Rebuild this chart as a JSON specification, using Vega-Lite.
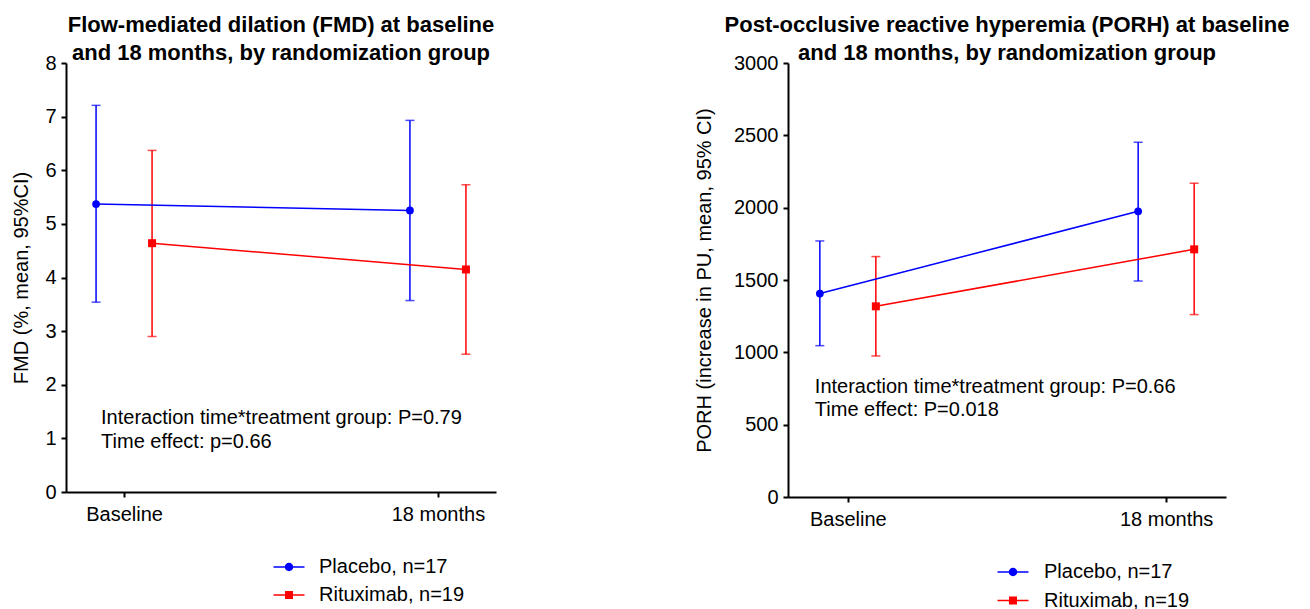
{
  "$schema": "https://vega.github.io/schema/vega-lite/v6.json",
  "background": "white",
  "padding": {"left": 11, "top": 14, "right": 5, "bottom": 5},
  "datasets": {
    "fmd": [
      {"time": "Baseline", "group": "Placebo, n=17", "mean": 5.37, "lo": 3.54, "hi": 7.21},
      {"time": "Baseline", "group": "Rituximab, n=19", "mean": 4.64, "lo": 2.90, "hi": 6.37},
      {"time": "18 months", "group": "Placebo, n=17", "mean": 5.25, "lo": 3.57, "hi": 6.93},
      {"time": "18 months", "group": "Rituximab, n=19", "mean": 4.15, "lo": 2.57, "hi": 5.73}
    ],
    "porh": [
      {"time": "Baseline", "group": "Placebo, n=17", "mean": 1406, "lo": 1046, "hi": 1770},
      {"time": "Baseline", "group": "Rituximab, n=19", "mean": 1318, "lo": 975, "hi": 1662},
      {"time": "18 months", "group": "Placebo, n=17", "mean": 1975, "lo": 1493, "hi": 2452},
      {"time": "18 months", "group": "Rituximab, n=19", "mean": 1712, "lo": 1261, "hi": 2169}
    ]
  },
  "spacing": 198,
  "resolve": {"scale": {"fill": "independent", "shape": "independent", "x": "independent", "y": "independent"}, "legend": {"fill": "independent", "shape": "independent"}},
  "hconcat": [
    {
      "width": 430,
      "height": 429,
      "title": {"text": ["Flow-mediated dilation (FMD) at baseline", "and 18 months, by randomization group"]},
      "data": {"name": "fmd"},
      "encoding": {
        "x": {"field": "time", "type": "nominal", "sort": ["Baseline", "18 months"], "scale": {"type": "point", "padding": 0.185}, "axis": {"title": null}},
        "xOffset": {"field": "group", "type": "nominal", "sort": ["Placebo, n=17", "Rituximab, n=19"], "scale": {"type": "point", "range": [-28, 28], "padding": 0}}
      },
      "layer": [
        {
          "mark": {"type": "point", "filled": true, "opacity": 0},
          "encoding": {
            "y": {"field": "mean", "type": "quantitative", "scale": {"domain": [0, 8], "nice": false}, "axis": {"values": [0,1,2,3,4,5,6,7,8], "title": "FMD (%, mean, 95%CI)", "titlePadding": 13}},
            "fill": {"field": "group", "type": "nominal", "scale": {"domain": ["Placebo, n=17", "Rituximab, n=19"], "range": ["#0000ff", "#ff0000"]}, "legend": {"title": null, "orient": "none", "legendX": 213, "legendY": 494, "padding": 0, "symbolSize": 400, "symbolOpacity": 1, "symbolStrokeWidth": 0, "labelOffset": 20, "rowPadding": 8, "direction": "vertical"}},
            "shape": {"field": "group", "type": "nominal", "scale": {"domain": ["Placebo, n=17", "Rituximab, n=19"], "range": ["M-1.55,-0.075H1.55V0.075H-1.55Z M0.42,0 A0.42,0.42 0 1,1 -0.42,0 A0.42,0.42 0 1,1 0.42,0 Z", "M-1.55,-0.075H1.55V0.075H-1.55Z M-0.4,-0.4H0.4V0.4H-0.4Z"]}, "legend": {"title": null, "orient": "none", "legendX": 213, "legendY": 494, "padding": 0, "symbolSize": 400, "symbolOpacity": 1, "symbolStrokeWidth": 0, "labelOffset": 20, "rowPadding": 8, "direction": "vertical"}}
          }
        },
        {
          "mark": {"type": "rule", "strokeWidth": 1.5},
          "encoding": {
            "y": {"field": "lo", "type": "quantitative"},
            "y2": {"field": "hi"},
            "color": {"field": "group", "type": "nominal", "scale": {"domain": ["Placebo, n=17", "Rituximab, n=19"], "range": ["#0000ff", "#ff0000"]}, "legend": null}
          }
        },
        {
          "mark": {"type": "tick", "thickness": 1.5, "size": 9, "orient": "horizontal"},
          "encoding": {"y": {"field": "lo", "type": "quantitative"}, "color": {"field": "group", "type": "nominal", "legend": null}}
        },
        {
          "mark": {"type": "tick", "thickness": 1.5, "size": 9, "orient": "horizontal"},
          "encoding": {"y": {"field": "hi", "type": "quantitative"}, "color": {"field": "group", "type": "nominal", "legend": null}}
        },
        {
          "mark": {"type": "line", "strokeWidth": 1.5},
          "encoding": {"y": {"field": "mean", "type": "quantitative"}, "color": {"field": "group", "type": "nominal", "legend": null}}
        },
        {
          "transform": [{"filter": "datum.group === 'Placebo, n=17'"}],
          "mark": {"type": "point", "shape": "circle", "filled": true, "size": 60, "opacity": 1},
          "encoding": {"y": {"field": "mean", "type": "quantitative"}, "color": {"field": "group", "type": "nominal", "legend": null}}
        },
        {
          "transform": [{"filter": "datum.group === 'Rituximab, n=19'"}],
          "mark": {"type": "point", "shape": "square", "filled": true, "size": 64, "opacity": 1},
          "encoding": {"y": {"field": "mean", "type": "quantitative"}, "color": {"field": "group", "type": "nominal", "legend": null}}
        },
        {
          "data": {"values": [{"note": "FMD"}]},
          "mark": {"type": "text", "align": "left", "baseline": "middle", "dx": -23, "fontSize": 20, "lineHeight": 24, "font": "Liberation Sans", "color": "black", "text": ["Interaction time*treatment group: P=0.79", "Time effect: p=0.66"]},
          "encoding": {"x": {"datum": "Baseline"}, "y": {"datum": 1.386}, "xOffset": {"value": 0}}
        }
      ]
    },
    {
      "width": 438,
      "height": 434,
      "title": {"text": ["Post-occlusive reactive hyperemia (PORH) at baseline", "and 18 months, by randomization group"]},
      "data": {"name": "porh"},
      "encoding": {
        "x": {"field": "time", "type": "nominal", "sort": ["Baseline", "18 months"], "scale": {"type": "point", "padding": 0.188}, "axis": {"title": null}},
        "xOffset": {"field": "group", "type": "nominal", "sort": ["Placebo, n=17", "Rituximab, n=19"], "scale": {"type": "point", "range": [-28, 28], "padding": 0}}
      },
      "layer": [
        {
          "mark": {"type": "point", "filled": true, "opacity": 0},
          "encoding": {
            "y": {"field": "mean", "type": "quantitative", "scale": {"domain": [0, 3000], "nice": false}, "axis": {"values": [0,500,1000,1500,2000,2500,3000], "format": "d", "title": "PORH (increase in PU, mean, 95% CI)", "titlePadding": 19}},
            "fill": {"field": "group", "type": "nominal", "scale": {"domain": ["Placebo, n=17", "Rituximab, n=19"], "range": ["#0000ff", "#ff0000"]}, "legend": {"title": null, "orient": "none", "legendX": 215, "legendY": 499, "padding": 0, "symbolSize": 400, "symbolOpacity": 1, "symbolStrokeWidth": 0, "labelOffset": 21, "rowPadding": 8.5, "direction": "vertical"}},
            "shape": {"field": "group", "type": "nominal", "scale": {"domain": ["Placebo, n=17", "Rituximab, n=19"], "range": ["M-1.55,-0.075H1.55V0.075H-1.55Z M0.42,0 A0.42,0.42 0 1,1 -0.42,0 A0.42,0.42 0 1,1 0.42,0 Z", "M-1.55,-0.075H1.55V0.075H-1.55Z M-0.4,-0.4H0.4V0.4H-0.4Z"]}, "legend": {"title": null, "orient": "none", "legendX": 215, "legendY": 499, "padding": 0, "symbolSize": 400, "symbolOpacity": 1, "symbolStrokeWidth": 0, "labelOffset": 21, "rowPadding": 8.5, "direction": "vertical"}}
          }
        },
        {
          "mark": {"type": "rule", "strokeWidth": 1.5},
          "encoding": {
            "y": {"field": "lo", "type": "quantitative"},
            "y2": {"field": "hi"},
            "color": {"field": "group", "type": "nominal", "scale": {"domain": ["Placebo, n=17", "Rituximab, n=19"], "range": ["#0000ff", "#ff0000"]}, "legend": null}
          }
        },
        {
          "mark": {"type": "tick", "thickness": 1.5, "size": 9, "orient": "horizontal"},
          "encoding": {"y": {"field": "lo", "type": "quantitative"}, "color": {"field": "group", "type": "nominal", "legend": null}}
        },
        {
          "mark": {"type": "tick", "thickness": 1.5, "size": 9, "orient": "horizontal"},
          "encoding": {"y": {"field": "hi", "type": "quantitative"}, "color": {"field": "group", "type": "nominal", "legend": null}}
        },
        {
          "mark": {"type": "line", "strokeWidth": 1.5},
          "encoding": {"y": {"field": "mean", "type": "quantitative"}, "color": {"field": "group", "type": "nominal", "legend": null}}
        },
        {
          "transform": [{"filter": "datum.group === 'Placebo, n=17'"}],
          "mark": {"type": "point", "shape": "circle", "filled": true, "size": 60, "opacity": 1},
          "encoding": {"y": {"field": "mean", "type": "quantitative"}, "color": {"field": "group", "type": "nominal", "legend": null}}
        },
        {
          "transform": [{"filter": "datum.group === 'Rituximab, n=19'"}],
          "mark": {"type": "point", "shape": "square", "filled": true, "size": 64, "opacity": 1},
          "encoding": {"y": {"field": "mean", "type": "quantitative"}, "color": {"field": "group", "type": "nominal", "legend": null}}
        },
        {
          "data": {"values": [{"note": "PORH"}]},
          "mark": {"type": "text", "align": "left", "baseline": "middle", "dx": -33, "fontSize": 20, "lineHeight": 23, "font": "Liberation Sans", "color": "black", "text": ["Interaction time*treatment group: P=0.66", "Time effect: P=0.018"]},
          "encoding": {"x": {"datum": "Baseline"}, "y": {"datum": 760}, "xOffset": {"value": 0}}
        }
      ]
    }
  ],
  "config": {
    "font": "Liberation Sans",
    "view": {"stroke": null},
    "title": {"font": "Liberation Sans", "fontSize": 22, "fontWeight": "bold", "color": "black", "lineHeight": 28, "anchor": "middle", "offset": -12},
    "axis": {"grid": false, "domainColor": "black", "domainWidth": 2, "tickColor": "black", "tickWidth": 2, "tickSize": 5, "labelFont": "Liberation Sans", "labelFontSize": 20, "labelColor": "black", "titleFont": "Liberation Sans", "titleFontSize": 20, "titleFontWeight": "normal", "titleColor": "black"},
    "axisY": {"labelPadding": 5},
    "axisX": {"labelAngle": 0, "labelPadding": 7},
    "legend": {"labelFont": "Liberation Sans", "labelFontSize": 20, "labelColor": "black"}
  }
}
